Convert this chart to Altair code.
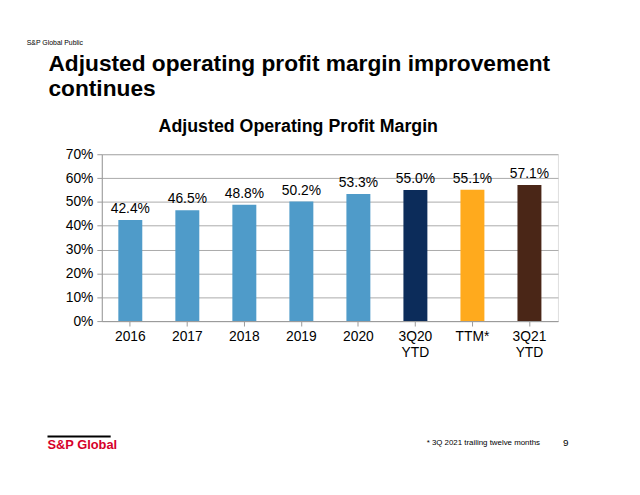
import altair as alt
import pandas as pd

cats = ["2016", "2017", "2018", "2019", "2020", "3Q20 YTD", "TTM*", "3Q21 YTD"]
vals = [42.4, 46.5, 48.8, 50.2, 53.3, 55.0, 55.1, 57.1]
colors = ["#4F9BC9"] * 5 + ["#0C2C5A", "#FFAA1D", "#4A2617"]

df = pd.DataFrame({"cat": cats, "v": vals, "c": colors,
                   "lab": [f"{v:.1f}%" for v in vals]})

F = "Liberation Sans"
x = alt.X("cat:N", sort=cats, title=None, scale=alt.Scale(paddingInner=0.58, paddingOuter=0.29),
          axis=alt.Axis(labelAngle=0, labelFontSize=14, labelColor="#000", labelFont=F, grid=False,
                        labelExpr="split(datum.label, ' ')", labelLineHeight=16,
                        domainColor="#999", tickColor="#999", tickSize=5, labelPadding=4))
y = alt.Y("v:Q", title=None, scale=alt.Scale(domain=[0, 70]),
          axis=alt.Axis(values=[0, 10, 20, 30, 40, 50, 60, 70], labelExpr="datum.value + '%'",
                        labelOverlap=False, labelFontSize=14, labelColor="#000", labelFont=F,
                        gridColor="#aaa", domainColor="#999", tickColor="#999", tickSize=5,
                        labelPadding=4))

bars = alt.Chart(df).mark_bar().encode(x=x, y=y, color=alt.Color("c:N", scale=None))
labels = alt.Chart(df).mark_text(dy=-11, fontSize=14, font=F, color="#000").encode(
    x=x, y=y, text="lab:N")

def txt(s, px, py, size, weight="normal", color="#000", align="left"):
    return alt.Chart(pd.DataFrame({"t": [s]})).mark_text(
        fontSize=size, fontWeight=weight, color=color, align=align, baseline="alphabetic", font=F
    ).encode(x=alt.value(px - 103), y=alt.value(py - 153), text="t:N")

extras = [
    txt("S&P Global Public", 27, 42, 7),
    txt("Adjusted operating profit margin improvement", 49, 69, 23, "bold"),
    txt("continues", 49, 94, 23, "bold"),
    txt("Adjusted Operating Profit Margin", 302, 130, 18, "bold", align="center"),
    txt("S&P Global", 48, 452, 13, "bold", "#D6002A"),
    txt("* 3Q 2021 trailing twelve months", 432, 447, 8),
    txt("9", 570, 449, 10),
]
line = alt.Chart(pd.DataFrame({"a": [0]})).mark_rule(color="#000", strokeWidth=2, clip=False).encode(
    x=alt.value(48 - 103), x2=alt.value(112 - 103), y=alt.value(439 - 153))

chart = alt.layer(bars, labels, line, *extras).properties(
    width=462, height=169, autosize=alt.AutoSizeParams(type="none"),
    padding={"left": 95, "top": 145, "right": 75, "bottom": 170}
).configure_view(strokeOpacity=0, strokeWidth=0).configure(background="white")

chart.save("out.html", embed_options={"renderer": "svg", "actions": False})
